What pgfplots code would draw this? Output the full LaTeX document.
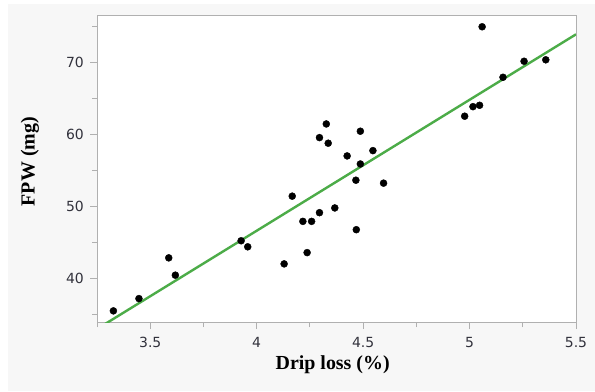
\documentclass[border=0pt]{standalone}
\usepackage{pgfplots}
\pgfplotsset{compat=1.18}
\usepackage{fontspec}
\newfontfamily\tickfont{DejaVu Sans}
\newfontfamily\labelfont{Liberation Serif}
\definecolor{bggray}{RGB}{247,247,247}
\definecolor{axgray}{RGB}{176,176,176}
\definecolor{fitgreen}{RGB}{76,172,72}
\definecolor{ticktext}{RGB}{50,50,60}
\begin{document}
\begin{tikzpicture}[x=1bp,y=1bp]
\useasboundingbox (0,0) rectangle (595,391);
\fill[bggray] (8,0) rectangle (595,387);
\begin{axis}[
  at={(97bp,69bp)}, anchor=south west,
  scale only axis, width=479bp, height=306bp,
  xmin=3.25, xmax=5.5, ymin=33.9, ymax=76.5,
  xtick={3.5,4,4.5,5,5.5},
  xticklabels={3.5,4,4.5,5,5.5},
  minor xtick={3.25,3.75,4.25,4.75,5.25},
  ytick={40,50,60,70},
  minor ytick={35,45,55,65,75},
  tick align=outside,
  major tick length=7bp, minor tick length=5bp,
  tick style={axgray, line width=0.8bp},
  every tick/.style={axgray, line width=0.8bp},
  xtick pos=bottom, ytick pos=left,
  axis line style={axgray, line width=1bp},
  axis background/.style={fill=white},
  /pgf/number format/assume math mode=true,
  ticklabel style={font=\fontsize{14}{14}\selectfont\tickfont, text=ticktext},
  xticklabel style={anchor=north, inner sep=0pt, yshift=-8bp},
  yticklabel style={anchor=east, inner sep=0pt, xshift=-6bp},
  xlabel={Drip loss (\%)},
  ylabel={FPW (mg)},
  label style={font=\fontsize{20}{20}\selectfont\labelfont\bfseries},
  xlabel style={at={(axis description cs:0.492,-0.1405)}, anchor=center},
  ylabel style={at={(axis description cs:-0.14,0.524)}, anchor=center, rotate=0},
]
\addplot[fitgreen, line width=2.4bp] coordinates {(3.25,32.93) (5.5,73.95)};
\addplot[only marks, mark=*, mark size=3.5bp, black] coordinates {
(5.059,75.0) (5.256,70.2) (5.358,70.4) (5.157,67.97) (4.977,62.55)
(5.016,63.88) (5.047,64.07) (4.327,61.47) (4.295,59.57) (4.336,58.79)
(4.487,60.46) (4.425,57.02) (4.546,57.76) (4.487,55.9) (4.466,53.64)
(4.596,53.23) (4.167,51.42) (4.367,49.78) (4.295,49.12) (4.217,47.91)
(4.258,47.91) (4.468,46.75) (3.927,45.21) (3.958,44.37) (4.237,43.56)
(4.129,41.99) (3.587,42.83) (3.618,40.42) (3.447,37.16) (3.327,35.45)
};
\end{axis}
\end{tikzpicture}
\end{document}
